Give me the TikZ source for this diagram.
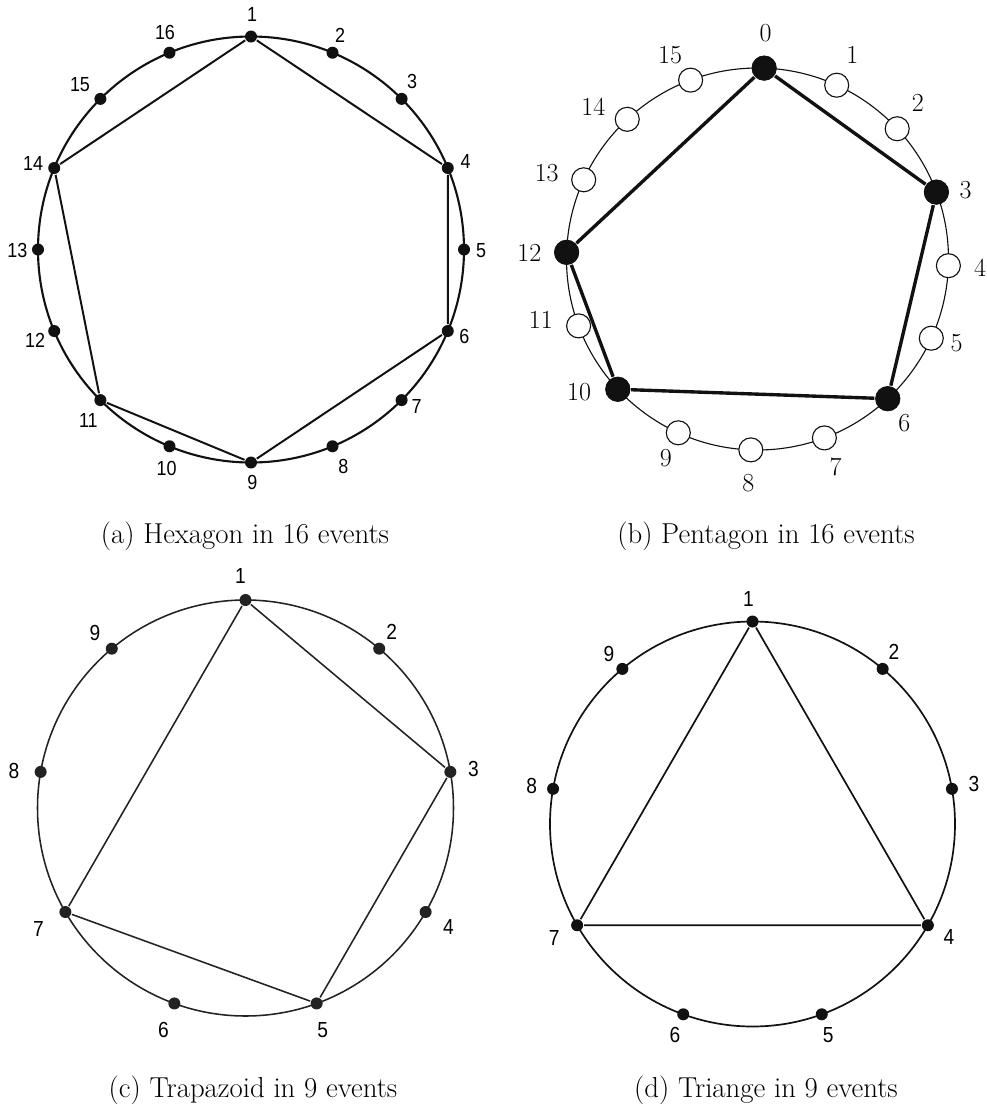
\documentclass[tikz,border=0pt]{standalone}
\usepackage{fontspec}
\usetikzlibrary{calc}
\newfontfamily\lblfont[FakeStretch=0.88]{Liberation Sans}
\definecolor{cink}{HTML}{111111}
\definecolor{cgrey}{HTML}{222222}
\tikzset{
  every picture/.style={line width=1.4pt},
  evdot/.style={circle, fill=cink, draw=none, inner sep=0pt, minimum size=0.3cm},
  lbl/.style={font=\lblfont\fontsize{#1}{#1}\selectfont, inner sep=0pt},
  lbl/.default=14.5,
  capt/.style={font=\fontsize{20.5}{24}\selectfont, anchor=base, inner sep=0pt},
}

\begin{document}
\begin{tikzpicture}[x=0.025cm, y=-0.025cm,
  rim/.style={draw=cink, line width=1.5pt},
  chord/.style={draw=cink, line width=1.4pt},
  thinrim/.style={draw=cink, line width=0.8pt},
  thickchord/.style={draw=cink, line width=2.4pt},
  opendot/.style={circle, draw=cink, fill=white, line width=0.8pt, inner sep=0pt, minimum size=0.6cm},
  bigdot/.style={circle, fill=cink, inner sep=0pt, minimum size=0.62cm},
  serif/.style={font=\fontsize{18.5}{18.5}\selectfont, inner sep=0pt}]
  \useasboundingbox (0,0) rectangle (987,1106);
  % (a) hexagon, 16 events
  \coordinate (oa) at (251,249.5);
  \draw[rim] (oa) circle[radius=213];
  \foreach \i/\dx/\dy in {1/1/-22.5, 2/7.5/-17.7, 3/10.4/-17.2, 4/17.9/-7, 5/17/1.2, 6/16.5/5.7,
      7/15/6.6, 8/10.8/20.4, 9/1.3/19.8, 10/-2.8/22, 11/-12/20, 12/-19.2/9, 13/-20.7/0.5,
      14/-21/-4.7, 15/-20.4/-14, 16/-4.5/-20.4} {
    \node[evdot] (a\i) at ($(oa)+({-90+(\i-1)*22.5}:213)$) {};
    \node[lbl] (la\i) at ($(a\i)+(\dx,\dy)$) {\i};
  }
  \draw[chord] (a1) -- (a4) -- (a6) -- (a9) -- (a11) -- (a14) -- (a1);
  \node[capt] (capa) at (245,543) {(a) Hexagon in 16 events};
  % (b) pentagon, 16 events
  \coordinate (ob) at (757.5,259);
  \draw[thinrim] (ob) circle[radius=191];
  \foreach \i/\dx/\dy in {0/1.5/-34.8, 1/15.6/-30.2, 2/20.6/-26, 3/29.3/-2.1, 4/31.6/2, 5/25.4/5.1,
      6/16.5/24.6, 7/11.3/28.7, 8/-2.5/33.4, 9/-12.5/25.5, 10/-38.8/2.4, 11/-37.8/-5.9,
      12/-37.3/1, 13/-37/-7, 14/-33.9/-12.1, 15/-20.6/-25} {
    \node[opendot] (b\i) at ($(ob)+({-88+\i*22.5}:191)$) {};
    \node[serif] (lb\i) at ($(b\i)+(\dx,\dy)$) {\i};
  }
  \foreach \i in {0,3,6,10,12} \node[bigdot] (fb\i) at (b\i) {};
  \draw[thickchord] (fb0) -- (fb3) -- (fb6) -- (fb10) -- (fb12) -- (fb0);
  \node[capt] (capb) at (766,543) {(b) Pentagon in 16 events};
  % (c) trapezoid, 9 events
  \coordinate (oc) at (245.5,808);
  \draw[rim, draw=cgrey, line width=1.1pt] (oc) circle[radius=208];
  \foreach \i/\dx/\dy in {1/-5/-24, 2/12.5/-17, 3/23/-3, 4/22.7/14.7, 5/6/26.5,
      6/-11/26.5, 7/-27/17, 8/-26.7/-1, 9/-16.8/-16} {
    \node[evdot, fill=cgrey] (c\i) at ($(oc)+({-90+(\i-1)*40}:208)$) {};
    \node[lbl=15.5] (lc\i) at ($(c\i)+(\dx,\dy)$) {\i};
  }
  \draw[chord, draw=cgrey, line width=1.1pt] (c1) -- (c3) -- (c5) -- (c7) -- (c1);
  \node[capt] (capc) at (253,1097) {(c) Trapazoid in 9 events};
  % (d) triangle, 9 events
  \coordinate (od) at (752.5,824);
  \draw[rim, line width=1.2pt] (od) circle[radius=202.5];
  \foreach \i/\dx/\dy in {1/-4/-22.5, 2/11.3/-17.2, 3/22/-4.8, 4/21/11.4, 5/6.5/20.7,
      6/-8.2/20.7, 7/-23/13, 8/-21.4/-2.8, 9/-13.3/-15} {
    \node[evdot] (d\i) at ($(od)+({-90+(\i-1)*40}:202.5)$) {};
    \node[lbl=15.5] (ld\i) at ($(d\i)+(\dx,\dy)$) {\i};
  }
  \draw[chord, line width=1.2pt] (d1) -- (d4) -- (d7) -- (d1);
  \node[capt] (capd) at (766,1097) {(d) Triange in 9 events};
\end{tikzpicture}
\end{document}
